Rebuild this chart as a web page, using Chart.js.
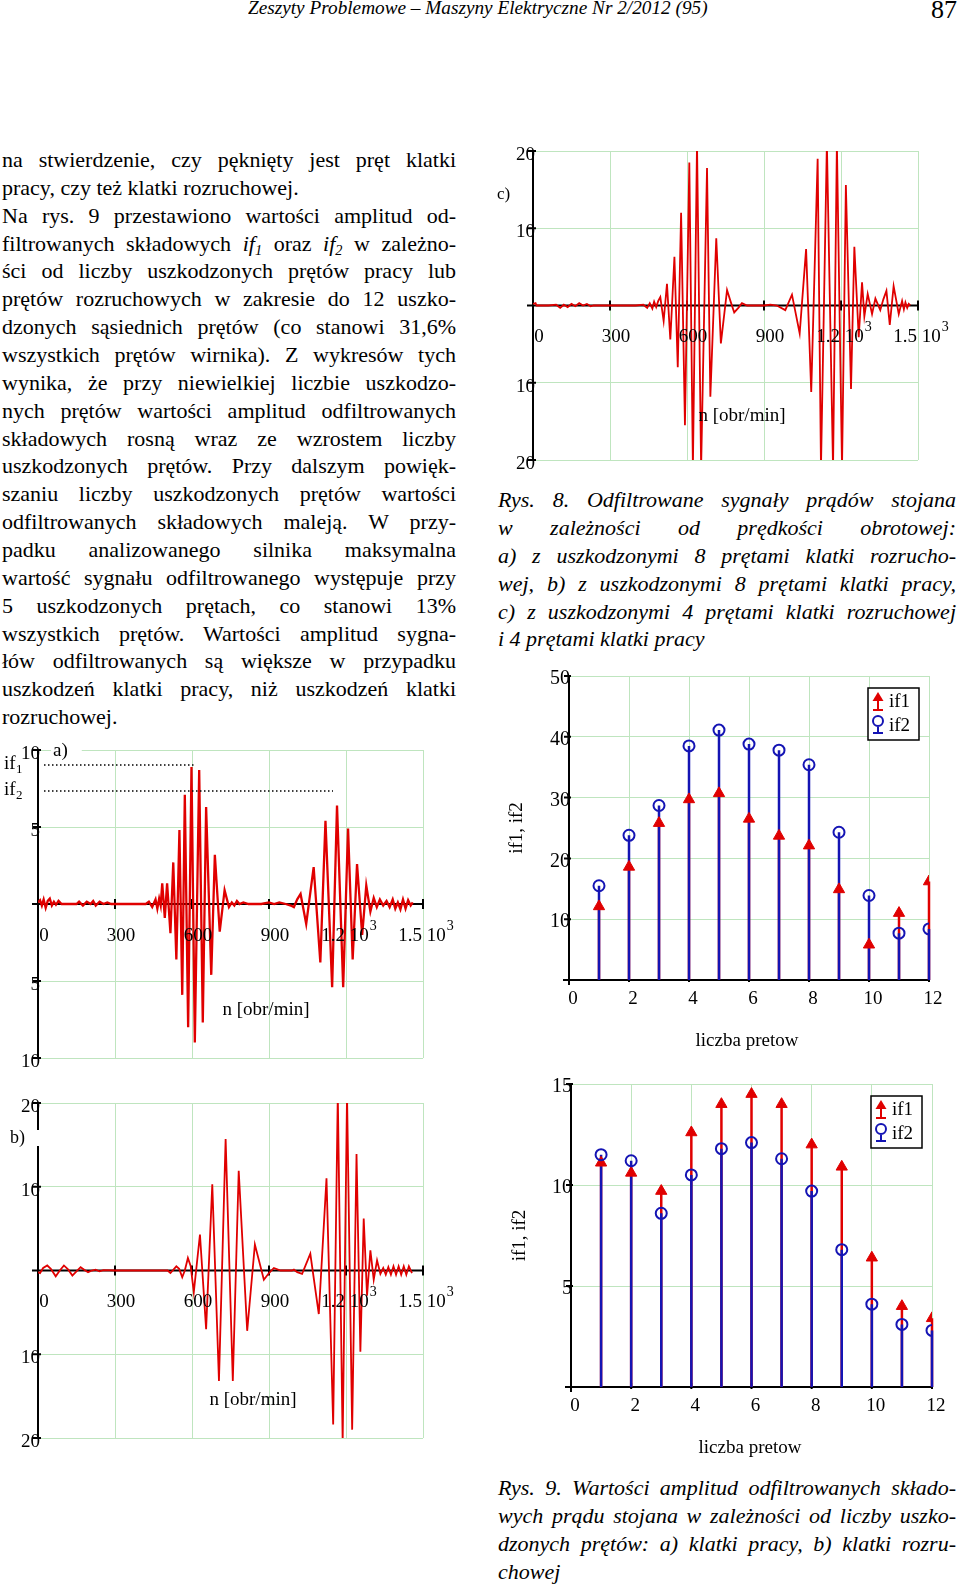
<!DOCTYPE html>
<html>
<head>
<meta charset="utf-8">
<script src="https://cdn.jsdelivr.net/npm/chart.js@4.4.0/dist/chart.umd.min.js"></script>
<style>
html, body { margin: 0; padding: 0; background: #fff; }
body { width: 960px; height: 1586px; position: relative; overflow: hidden; font-family: 'Liberation Serif', 'Times New Roman', serif; color: #000; }
.col { position: absolute; font-size: 22px; }
.col .ln { height: 27.87px; line-height: 27.87px; white-space: nowrap; text-align: justify; text-align-last: justify; transform-origin: left center; }
.col .ln.end { text-align: left; text-align-last: left; }
.cap { font-style: italic; }
.cap .ln { height: 27.9px; line-height: 27.9px; }
.sub { font-size: 0.65em; position: relative; top: 0.28em; }
#hdr { position: absolute; left: 248px; top: -2px; font-size: 19.5px; font-style: italic; white-space: nowrap; line-height: 20px; transform-origin: left center; }
#pg { position: absolute; left: 931px; top: -4px; font-size: 26px; line-height: 28px; }
canvas { position: absolute; }
</style>
</head>
<body>

<div id="hdr">Zeszyty Problemowe – Maszyny Elektryczne Nr 2/2012 (95)</div>
<div id="pg">87</div>

<div class="col" style="left:2px; top:146px; width:454px;">
  <div class="ln">na stwierdzenie, czy pęknięty jest pręt klatki</div>
  <div class="ln end">pracy, czy też klatki rozruchowej.</div>
  <div class="ln">Na rys. 9 przestawiono wartości amplitud od-</div>
  <div class="ln">filtrowanych składowych <i>if<span class="sub">1</span></i> oraz <i>if<span class="sub">2</span></i> w zależno-</div>
  <div class="ln">ści od liczby uszkodzonych prętów pracy lub</div>
  <div class="ln">prętów rozruchowych w zakresie do 12 uszko-</div>
  <div class="ln">dzonych sąsiednich prętów (co stanowi 31,6%</div>
  <div class="ln">wszystkich prętów wirnika). Z wykresów tych</div>
  <div class="ln">wynika, że przy niewielkiej liczbie uszkodzo-</div>
  <div class="ln">nych prętów wartości amplitud odfiltrowanych</div>
  <div class="ln">składowych rosną wraz ze wzrostem liczby</div>
  <div class="ln">uszkodzonych prętów. Przy dalszym powięk-</div>
  <div class="ln">szaniu liczby uszkodzonych prętów wartości</div>
  <div class="ln">odfiltrowanych składowych maleją. W przy-</div>
  <div class="ln">padku analizowanego silnika maksymalna</div>
  <div class="ln">wartość sygnału odfiltrowanego występuje przy</div>
  <div class="ln">5 uszkodzonych prętach, co stanowi 13%</div>
  <div class="ln">wszystkich prętów. Wartości amplitud sygna-</div>
  <div class="ln">łów odfiltrowanych są większe w przypadku</div>
  <div class="ln">uszkodzeń klatki pracy, niż uszkodzeń klatki</div>
  <div class="ln end">rozruchowej.</div>
</div>

<div class="col cap" style="left:498px; top:486px; width:458px;">
  <div class="ln">Rys. 8. Odfiltrowane sygnały prądów stojana</div>
  <div class="ln">w zależności od prędkości obrotowej:</div>
  <div class="ln">a) z uszkodzonymi 8 prętami klatki rozrucho-</div>
  <div class="ln">wej, b) z uszkodzonymi 8 prętami klatki pracy,</div>
  <div class="ln">c) z uszkodzonymi 4 prętami klatki rozruchowej</div>
  <div class="ln end">i 4 prętami klatki pracy</div>
</div>

<div class="col cap" style="left:498px; top:1474px; width:458px;">
  <div class="ln">Rys. 9. Wartości amplitud odfiltrowanych składo-</div>
  <div class="ln">wych prądu stojana w zależności od liczby uszko-</div>
  <div class="ln">dzonych prętów: a) klatki pracy, b) klatki rozru-</div>
  <div class="ln end">chowej</div>
</div>

<canvas id="chartA" width="460" height="345" style="left:0px; top:728px;"></canvas>
<canvas id="chartB" width="460" height="375" style="left:0px; top:1080px;"></canvas>
<canvas id="chartC" width="480" height="345" style="left:480px; top:130px;"></canvas>
<canvas id="chartD" width="470" height="400" style="left:490px; top:660px;"></canvas>
<canvas id="chartE" width="470" height="400" style="left:490px; top:1065px;"></canvas>

<script>
// --- dane ---

// Rys. 8a
const nA = [0, 8, 15, 22, 30, 38, 46, 54, 62, 70, 80, 92, 150, 160, 175, 190, 205, 215, 225, 240, 255, 270, 285,
  420, 432, 445, 458, 465, 472, 478, 484, 494, 503, 516, 527, 539, 551, 562, 572, 585, 598, 611, 628, 642, 655, 675,
  689, 708, 727, 744, 755, 765, 775, 785, 800, 820, 870, 900, 920, 940, 965, 985, 997, 1010, 1023, 1045, 1074, 1100,
  1120, 1146, 1165, 1189, 1208, 1226, 1243, 1263, 1279, 1295, 1308, 1320, 1332, 1345, 1358, 1370, 1382, 1392, 1402,
  1412, 1422, 1432, 1442, 1452, 1460];
const ifA = [0.1, 0.25, -0.1, 0.3, -0.25, 0.2, 0.35, -0.1, 0.15, -0.05, 0.2, 0, 0, 0.15, -0.1, 0.15, 0, 0.2, -0.1, 0.15, 0, 0.1, 0,
  0, 0.15, -0.2, 0.3, -0.3, 0.35, -0.1, 1.35, -0.9, 1.35, -1.9, 2.7, -3.6, 4.8, -5.9, 7.1, -8.0, 8.9, -9.0, 8.7, -7.7, 6.3, -4.6,
  3.2, -1.8, 0.9, -0.2, 0.1, -0.1, 0.2, 0, 0.1, 0, 0, 0.1, 0, 0.1, 0, -0.1, -0.2, 0.3, 0.65, -1.3, 2.4, -3.8,
  5.4, -5.4, 6.4, -5.4, 4.9, -3.6, 2.6, -2.0, 1.2, -0.5, 0.4, -0.2, 0.3, -0.1, 0.2, -0.2, 0.3, -0.3, 0.1,
  -0.35, 0.3, -0.3, 0.25, -0.1, 0.1];

// Rys. 8b
const nB = [0, 8, 20, 36, 50, 69, 85, 101, 118, 134, 150, 166, 180, 195, 210, 224, 240, 255, 300, 505, 516, 539, 550,
  562, 572, 584, 595, 607, 631, 655, 679, 705, 731, 759, 782, 815, 845, 880, 900, 919, 945, 990, 997, 1010, 1029,
  1061, 1094, 1124, 1150, 1168, 1187, 1204, 1224, 1241, 1256, 1269, 1282, 1295, 1308, 1321, 1334, 1345, 1355, 1365,
  1375, 1385, 1395, 1405, 1415, 1425, 1435, 1445, 1457];
const ifB = [-0.2, -0.3, 0.3, 0.6, 0.2, -0.7, 0, 0.6, 0.1, -0.6, -0.1, 0.4, 0.1, -0.2, 0, 0.1, -0.1, 0.05, 0, 0, -0.3, 0.5, 0.2,
  -0.8, 0, 1.5, 0.5, -2.6, 4.3, -7.0, 10.3, -13.2, 15.7, -13.2, 11.9, -7.2, 3.1, -1.1, -0.3, 0.3, 0, 0, 0.1, -0.2, -0.4,
  2.0, -5.2, 11.0, -18.4, 21, -20.5, 21, -19.0, 13.9, -9.7, 6.2, -3.0, 2.4, -1.1, 1.2, -0.4, 0.3, -0.5, 0.4,
  -0.5, 0.5, -0.5, 0.5, -0.5, 0.5, -0.5, 0.5, -0.3];

// Rys. 8c
const nC = [0, 10, 14, 60, 90, 106, 120, 135, 150, 165, 180, 195, 210, 225, 236, 400, 430, 445, 455, 465, 472, 480,
  488, 496, 509, 522, 535, 551, 564, 577, 592, 609, 623, 639, 655, 678, 691, 714, 732, 756, 770, 784, 800, 814, 834,
  900, 925, 950, 983, 1009, 1039, 1064, 1084, 1109, 1122, 1145, 1169, 1184, 1204, 1219, 1239, 1252, 1269, 1282,
  1291, 1304, 1321, 1334, 1353, 1365, 1377, 1390, 1405, 1425, 1438, 1445, 1451, 1458, 1464, 1470];
const ifC = [0.2, 0.3, 0, 0, 0.1, -0.3, 0.1, -0.2, 0.2, -0.1, 0.3, 0, 0.2, -0.1, 0, 0, 0.1, -0.3, 0.3, -0.4, 0.5, -0.2,
  0.6, 1.1, -2.0, 2.8, -4.4, 6.3, -8.0, 12.0, -15.5, 18.5, -21, 21, -21, 17.8, -11.8, 8.7, -4.9, 2.0, 0.5, -0.9, -0.3, 0.3, 0,
  0, 0.1, 0, -0.6, 1.4, -3.6, 7.3, -11.2, 19.0, -21, 21, -21, 21, -21, 15.6, -10.8, 7.6, -4.1, 3.0,
  -1.4, 1.5, -1.1, 0.9, -0.6, 0.8, 1.9, -2.5, 2.5, -1.1, 0.6, -0.5, 0.4, -0.3, 0.2, 0];

const xTickVals = [0, 300, 600, 900, 1200, 1500];
const xTickText = ['0', '300', '600', '900', '1.2 10', '1.5 10'];
const xTickExp = ['', '', '', '', '3', '3'];
const yTickValsA = [10, 5, -5, -10];
const yTickTextA = ['10', '5', '5', '10'];
const yTickValsBC = [20, 10, -10, -20];
const yTickTextBC = ['20', '10', '10', '20'];

// Rys. 9
const liczbaPretow = [1, 2, 3, 4, 5, 6, 7, 8, 9, 10, 11, 12];
const if1Pracy = [12.1, 18.6, 25.8, 29.7, 30.7, 26.5, 23.7, 22.1, 14.9, 5.8, 11.0, 16.2];
const if2Pracy = [15.5, 23.8, 28.7, 38.5, 41.1, 38.8, 37.8, 35.4, 24.3, 13.9, 7.7, 8.4];
const if1Rozr = [11.1, 10.6, 9.7, 12.6, 14.0, 14.5, 14.0, 12.0, 10.9, 6.4, 4.0, 3.4];
const if2Rozr = [11.5, 11.2, 8.6, 10.5, 11.8, 12.1, 11.3, 9.7, 6.8, 4.1, 3.1, 2.8];
const prTickVals = [0, 2, 4, 6, 8, 10, 12];
const yTickValsD = [50, 40, 30, 20, 10];
const yTickValsE = [15, 10, 5];

const GRID = '#bfe5bf';
const RED = '#e00000';
const BLUE = '#1414b4';
const FONT = '"Liberation Serif", "Times New Roman", serif';

// dopasowanie linii tekstu do szerokosci kolumny
document.querySelectorAll('.ln').forEach(el => {
    const w = el.clientWidth, sw = el.scrollWidth;
    if (sw > w + 0.5) el.style.transform = 'scaleX(' + (w / sw) + ')';
});
const hdr = document.getElementById('hdr');
hdr.style.transform = 'scaleX(' + (460 / hdr.scrollWidth) + ')';

function text(ctx, s, x, y, size, align, baseline) {
    ctx.font = size + 'px ' + FONT;
    ctx.textAlign = align || 'left';
    ctx.textBaseline = baseline || 'middle';
    ctx.fillText(s, x, y);
}

function signalAxes(cfg) {
    return {
        id: 'signalAxes',
        beforeDatasetsDraw(chart) {
            const { ctx, chartArea: a, scales: { x, y } } = chart;
            const x0 = x.getPixelForValue(0), y0 = y.getPixelForValue(0);
            ctx.save();
            ctx.strokeStyle = '#000';
            ctx.lineWidth = 2;
            ctx.beginPath();
            ctx.moveTo(x0, a.top - 1);
            ctx.lineTo(x0, a.bottom + 1);
            ctx.moveTo(x0 - 6, y0);
            ctx.lineTo(x.getPixelForValue(x.max), y0);
            cfg.xTicks.forEach(v => {
                const px = x.getPixelForValue(v);
                ctx.moveTo(px, y0 - 5);
                ctx.lineTo(px, y0 + 5);
            });
            cfg.yTicks.forEach(v => {
                const py = y.getPixelForValue(v);
                ctx.moveTo(x0 - 5, py);
                ctx.lineTo(x0 + 3, py);
            });
            ctx.stroke();
            ctx.restore();
        },
        afterDraw(chart) {
            const { ctx, chartArea: a, scales: { x, y } } = chart;
            const x0 = x.getPixelForValue(0), y0 = y.getPixelForValue(0);
            ctx.save();
            ctx.fillStyle = '#000';
            // etykiety osi y
            cfg.yTicks.forEach((v, i) => text(ctx, cfg.yText[i], x0 + 2, y.getPixelForValue(v) + 4, 19, 'right'));
            // etykiety osi x (z wykladnikiem)
            cfg.xTicks.forEach((v, i) => {
                const base = cfg.xText[i], exp = cfg.xExp[i];
                ctx.font = '19px ' + FONT;
                const wb = ctx.measureText(base).width;
                ctx.font = '14px ' + FONT;
                const we = exp ? ctx.measureText(exp).width + 1 : 0;
                const cx = x.getPixelForValue(v) + (exp ? 3 : 6);
                const left = cx - (wb + we) / 2;
                text(ctx, base, left, y0 + 32, 19, 'left');
                if (exp) text(ctx, exp, left + wb + 1, y0 + 22, 14, 'left');
            });
            // podpis osi
            text(ctx, 'n [obr/min]', a.left + cfg.unit[0], a.top + cfg.unit[1], 19, 'center');
            // oznaczenie wykresu
            ctx.font = cfg.tag[3] + 'px ' + FONT;
            const tw = ctx.measureText(cfg.tag[0]).width;
            ctx.fillStyle = '#fff';
            ctx.fillRect(a.left + cfg.tag[1] - 2, a.top + cfg.tag[2] - 8, tw + 16, 16);
            ctx.fillStyle = '#000';
            text(ctx, cfg.tag[0], a.left + cfg.tag[1], a.top + cfg.tag[2], cfg.tag[3], 'left');
            // legenda sladow (tylko rys. 8a)
            if (cfg.traces) {
                cfg.traces.forEach(t => {
                    text(ctx, 'if', a.left - 34, a.top + t.dy + 4, 19, 'left', 'alphabetic');
                    text(ctx, t.sub, a.left - 22, a.top + t.dy + 8, 13, 'left', 'alphabetic');
                    ctx.strokeStyle = '#000';
                    ctx.lineWidth = 1.5;
                    ctx.setLineDash([1.5, 2.5]);
                    ctx.beginPath();
                    ctx.moveTo(a.left + 6, a.top + t.dy);
                    ctx.lineTo(a.left + t.len, a.top + t.dy);
                    ctx.stroke();
                    ctx.setLineDash([]);
                });
            }
            ctx.restore();
        }
    };
}

function signalChart(id, xs, ys, yMax, yStep, width, pad, cfg) {
    return new Chart(document.getElementById(id), {
        type: 'line',
        data: {
            datasets: [{
                data: xs.map((v, i) => ({ x: v, y: ys[i] })),
                borderColor: RED,
                borderWidth: width,
                pointRadius: 0,
                tension: 0,
                clip: 0
            }]
        },
        options: {
            responsive: false,
            animation: false,
            events: [],
            layout: { padding: pad },
            plugins: { legend: { display: false }, tooltip: { enabled: false } },
            scales: {
                x: {
                    type: 'linear', min: 0, max: 1500,
                    ticks: { display: false, stepSize: 300 },
                    grid: { color: GRID, lineWidth: 1, drawTicks: false },
                    border: { display: false }
                },
                y: {
                    type: 'linear', min: -yMax, max: yMax,
                    ticks: { display: false, stepSize: yStep },
                    grid: { color: GRID, lineWidth: 1, drawTicks: false },
                    border: { display: false }
                }
            }
        },
        plugins: [signalAxes(cfg)]
    });
}

signalChart('chartA', nA, ifA, 10, 5, 2.3, { left: 38, top: 22, right: 37, bottom: 15 }, {
    xTicks: xTickVals, xText: xTickText, xExp: xTickExp,
    yTicks: yTickValsA, yText: yTickTextA,
    unit: [228, 260], tag: ['a)', 15, 1, 19],
    traces: [{ sub: '1', dy: 15, len: 157 }, { sub: '2', dy: 41, len: 295 }]
});
signalChart('chartB', nB, ifB, 20, 10, 1.8, { left: 38, top: 23, right: 37, bottom: 17 }, {
    xTicks: xTickVals, xText: xTickText, xExp: xTickExp,
    yTicks: yTickValsBC, yText: yTickTextBC,
    unit: [215, 297], tag: ['b)', -28, 35, 18]
});
signalChart('chartC', nC, ifC, 20, 10, 1.8, { left: 53, top: 21, right: 42, bottom: 15 }, {
    xTicks: xTickVals, xText: xTickText, xExp: xTickExp,
    yTicks: yTickValsBC, yText: yTickTextBC,
    unit: [209, 265], tag: ['c)', -36, 44, 17]
});

// --- Rys. 9: wykresy slupkowe (lodygi + znaczniki) ---
function stems(xs, ys) {
    const out = [];
    xs.forEach((x, i) => out.push({ x: x, y: 0 }, { x: x, y: ys[i] }, { x: x, y: null }));
    return out;
}

function stemAxes(cfg) {
    return {
        id: 'stemAxes',
        beforeDatasetsDraw(chart) {
            const { ctx, chartArea: a, scales: { x, y } } = chart;
            const x0 = x.getPixelForValue(0), y0 = y.getPixelForValue(0);
            ctx.save();
            ctx.strokeStyle = '#000';
            ctx.lineWidth = 2;
            ctx.beginPath();
            ctx.moveTo(x0, a.top - 1);
            ctx.lineTo(x0, y0 + 5);
            ctx.moveTo(x0 - 6, y0);
            ctx.lineTo(a.right, y0);
            cfg.yTicks.forEach(v => {
                const py = y.getPixelForValue(v);
                ctx.moveTo(x0 - 5, py);
                ctx.lineTo(x0 + 2, py);
            });
            cfg.xTicks.forEach(v => {
                const px = x.getPixelForValue(v);
                ctx.moveTo(px, y0 - 4);
                ctx.lineTo(px, y0 + 2);
            });
            ctx.stroke();
            ctx.restore();
        },
        afterDraw(chart) {
            const { ctx, chartArea: a, scales: { x, y } } = chart;
            const x0 = x.getPixelForValue(0), y0 = y.getPixelForValue(0);
            ctx.save();
            ctx.fillStyle = '#000';
            cfg.yTicks.forEach(v => text(ctx, String(v), x0 + 1, y.getPixelForValue(v) + 3, 20, 'right'));
            cfg.xTicks.forEach(v => text(ctx, String(v), x.getPixelForValue(v) + 4, y0 + 19, 19, 'center'));
            text(ctx, 'liczba pretow', a.left + cfg.xTitle, a.bottom + 61, 19, 'center');
            ctx.save();
            ctx.translate(a.left - cfg.yTitle, (a.top + a.bottom) / 2);
            ctx.rotate(-Math.PI / 2);
            text(ctx, 'if1, if2', 0, 0, 19, 'center');
            ctx.restore();

            // legenda w ramce
            const lx = a.right - 61, ly = a.top + 12;
            ctx.fillStyle = '#fff';
            ctx.fillRect(lx, ly, 51, 52);
            ctx.strokeStyle = '#000';
            ctx.lineWidth = 1.5;
            ctx.strokeRect(lx, ly, 51, 52);
            // if1: trojkat z lodyzka
            ctx.strokeStyle = RED;
            ctx.fillStyle = RED;
            ctx.lineWidth = 2;
            ctx.beginPath();
            ctx.moveTo(lx + 10, ly + 12); ctx.lineTo(lx + 10, ly + 22);
            ctx.moveTo(lx + 5, ly + 22); ctx.lineTo(lx + 15, ly + 22);
            ctx.stroke();
            ctx.beginPath();
            ctx.moveTo(lx + 10, ly + 4); ctx.lineTo(lx + 15.5, ly + 13); ctx.lineTo(lx + 4.5, ly + 13);
            ctx.closePath();
            ctx.fill();
            // if2: okrag z lodyzka
            ctx.strokeStyle = BLUE;
            ctx.beginPath();
            ctx.arc(lx + 10, ly + 33, 5, 0, Math.PI * 2);
            ctx.moveTo(lx + 10, ly + 38); ctx.lineTo(lx + 10, ly + 45);
            ctx.moveTo(lx + 5, ly + 45); ctx.lineTo(lx + 15, ly + 45);
            ctx.stroke();
            ctx.fillStyle = '#000';
            text(ctx, 'if1', lx + 21, ly + 14, 19, 'left');
            text(ctx, 'if2', lx + 21, ly + 38, 19, 'left');
            ctx.restore();
        }
    };
}

function stemChart(id, if1, if2, yMax, yStep, pad, cfg) {
    return new Chart(document.getElementById(id), {
        type: 'line',
        data: {
            datasets: [
                { data: stems(liczbaPretow, if1), borderColor: RED, borderWidth: 2.5, pointRadius: 0, clip: 3, order: 4 },
                { data: stems(liczbaPretow, if2), borderColor: BLUE, borderWidth: 2.5, pointRadius: 0, clip: 3, order: 3 },
                {
                    data: liczbaPretow.map((x, i) => ({ x: x, y: if1[i] })), showLine: false,
                    pointStyle: 'triangle', pointRadius: 6.5, backgroundColor: RED, borderColor: RED, borderWidth: 1,
                    clip: 0, order: 2
                },
                {
                    data: liczbaPretow.map((x, i) => ({ x: x, y: if2[i] })), showLine: false,
                    pointStyle: 'circle', pointRadius: 5.5, backgroundColor: 'rgba(0,0,0,0)', borderColor: BLUE, borderWidth: 2,
                    clip: 0, order: 1
                }
            ]
        },
        options: {
            responsive: false,
            animation: false,
            events: [],
            layout: { padding: pad },
            plugins: { legend: { display: false }, tooltip: { enabled: false } },
            scales: {
                x: {
                    type: 'linear', min: 0, max: 12,
                    ticks: { display: false, stepSize: 2 },
                    grid: { color: GRID, lineWidth: 1, drawTicks: false },
                    border: { display: false }
                },
                y: {
                    type: 'linear', min: 0, max: yMax,
                    ticks: { display: false, stepSize: yStep },
                    grid: { color: GRID, lineWidth: 1, drawTicks: false },
                    border: { display: false }
                }
            }
        },
        plugins: [stemAxes(cfg)]
    });
}

stemChart('chartD', if1Pracy, if2Pracy, 50, 10, { left: 79, top: 16, right: 31, bottom: 80 },
    { yTicks: yTickValsD, xTicks: prTickVals, xTitle: 178, yTitle: 52 });
stemChart('chartE', if1Rozr, if2Rozr, 15, 5, { left: 81, top: 19, right: 28, bottom: 78 },
    { yTicks: yTickValsE, xTicks: prTickVals, xTitle: 179, yTitle: 51 });
</script>
</body>
</html>
